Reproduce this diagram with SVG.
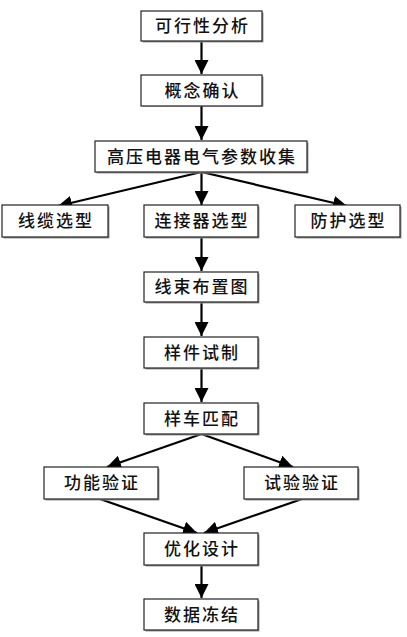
<svg xmlns="http://www.w3.org/2000/svg" width="407" height="637" viewBox="0 0 407 637">
<style>
.box{fill:#fff;stroke:#222;stroke-width:1.2}
.sh{fill:#9a9a9a}
.t{font-family:"Liberation Serif","Noto Sans CJK SC",serif;font-size:17px;letter-spacing:2px;fill:#111;text-anchor:middle;font-weight:500}
.c{stroke:#000;stroke-width:2.2;fill:none;marker-end:url(#ah)}
</style>
<defs>
<marker id="ah" markerUnits="userSpaceOnUse" markerWidth="14" markerHeight="14" viewBox="0 0 10 10" refX="10" refY="5" orient="auto">
<path d="M0,0 L10,5 L0,10 z" fill="#000"/>
</marker>
</defs>
<rect width="407" height="637" fill="#fff"/>
<g id="connectors">
<line class="c" x1="201.5" y1="41" x2="201.5" y2="74"/>
<line class="c" x1="201.5" y1="106" x2="201.5" y2="140"/>
<line class="c" x1="201.5" y1="172" x2="58" y2="206"/>
<line class="c" x1="201.5" y1="172" x2="201.5" y2="205"/>
<line class="c" x1="201.5" y1="172" x2="347" y2="206"/>
<line class="c" x1="201.5" y1="237" x2="201.5" y2="271"/>
<line class="c" x1="201.5" y1="302" x2="201.5" y2="336"/>
<line class="c" x1="201.5" y1="368" x2="201.5" y2="402"/>
<line class="c" x1="201.5" y1="434" x2="107" y2="467"/>
<line class="c" x1="201.5" y1="434" x2="293" y2="467"/>
<line class="c" x1="100" y1="499" x2="197" y2="533"/>
<line class="c" x1="302" y1="499" x2="204" y2="533"/>
<line class="c" x1="201.5" y1="565" x2="201.5" y2="598"/>
</g>
<g id="n1"><rect class="sh" x="142.5" y="12.5" width="121" height="30"/><rect class="box" x="141" y="11" width="121" height="30"/><text class="t" x="202.5" y="32">可行性分析</text></g>
<g id="n2"><rect class="sh" x="142.5" y="76.5" width="121" height="30"/><rect class="box" x="141" y="75" width="121" height="31"/><text class="t" x="202.5" y="97">概念确认</text></g>
<g id="n3"><rect class="sh" x="96.5" y="142.5" width="212" height="31"/><rect class="box" x="95" y="141" width="212" height="31"/><text class="t" x="202" y="163">高压电器电气参数收集</text></g>
<g id="n4"><rect class="sh" x="3.5" y="206.5" width="106" height="32"/><rect class="box" x="2" y="205" width="106" height="32"/><text class="t" x="56" y="227">线缆选型</text></g>
<g id="n5"><rect class="sh" x="145.5" y="206.5" width="114" height="32"/><rect class="box" x="144" y="205" width="114" height="32"/><text class="t" x="202" y="227">连接器选型</text></g>
<g id="n6"><rect class="sh" x="296.5" y="206.5" width="105" height="32"/><rect class="box" x="295" y="205" width="105" height="32"/><text class="t" x="348.5" y="227">防护选型</text></g>
<g id="n7"><rect class="sh" x="145.5" y="273.5" width="114" height="30"/><rect class="box" x="144" y="272" width="114" height="30"/><text class="t" x="202" y="293">线束布置图</text></g>
<g id="n8"><rect class="sh" x="145.5" y="338.5" width="114" height="31"/><rect class="box" x="144" y="337" width="114" height="31"/><text class="t" x="202" y="359">样件试制</text></g>
<g id="n9"><rect class="sh" x="145.5" y="404.5" width="114" height="31"/><rect class="box" x="144" y="403" width="114" height="31"/><text class="t" x="202" y="425">样车匹配</text></g>
<g id="n10"><rect class="sh" x="45.5" y="468.5" width="114" height="32"/><rect class="box" x="44" y="467" width="114" height="32"/><text class="t" x="102" y="489">功能验证</text></g>
<g id="n11"><rect class="sh" x="245.5" y="468.5" width="114" height="32"/><rect class="box" x="244" y="467" width="114" height="32"/><text class="t" x="302" y="489">试验验证</text></g>
<g id="n12"><rect class="sh" x="145.5" y="534.5" width="114" height="32"/><rect class="box" x="144" y="533" width="114" height="32"/><text class="t" x="202" y="555">优化设计</text></g>
<g id="n13"><rect class="sh" x="145.5" y="600.5" width="114" height="31"/><rect class="box" x="144" y="599" width="114" height="31"/><text class="t" x="202" y="621">数据冻结</text></g>
</svg>
